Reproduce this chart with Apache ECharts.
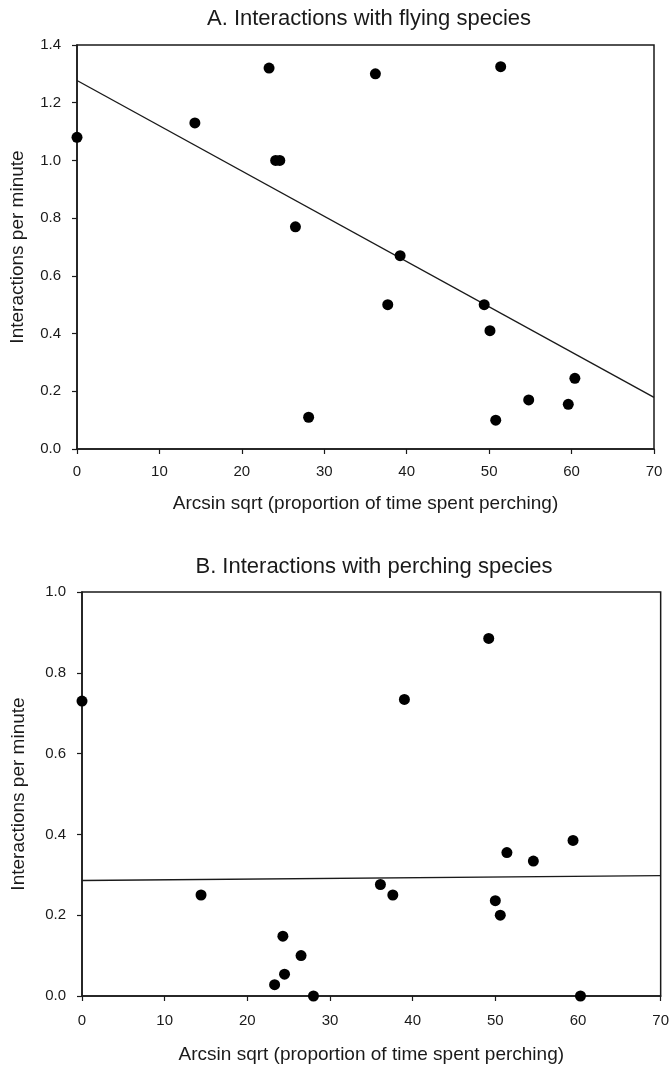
<!DOCTYPE html>
<html><head><meta charset="utf-8">
<script src="https://cdn.jsdelivr.net/npm/echarts@6/dist/echarts.min.js"></script>
<style>html,body{margin:0;padding:0;background:#fff}#c{width:672px;height:1067px}</style>
</head><body><div id="c"></div>
<script>
// Panel A: interactions with flying species
const xA = [0, 14.3, 23.3, 24.1, 24.6, 26.5, 28.1, 36.2, 37.7, 39.2, 49.4, 50.1, 50.8, 51.4, 54.8, 59.6, 60.4];
const yA = [1.08, 1.13, 1.32, 1.00, 1.00, 0.77, 0.11, 1.30, 0.50, 0.67, 0.50, 0.41, 0.10, 1.325, 0.17, 0.155, 0.245];
const fitA = [[0, 1.277], [70, 0.179]];
// Panel B: interactions with perching species
const xB = [0, 14.4, 23.3, 24.3, 24.5, 26.5, 28.0, 36.1, 37.6, 39.0, 49.2, 50.0, 50.6, 51.4, 54.6, 59.4, 60.3];
const yB = [0.73, 0.25, 0.028, 0.148, 0.054, 0.10, 0.0, 0.276, 0.25, 0.734, 0.885, 0.236, 0.20, 0.355, 0.334, 0.385, 0.0];
const fitB = [[0, 0.286], [70, 0.298]];
const titles = ['A. Interactions with flying species', 'B. Interactions with perching species'];
const xName = 'Arcsin sqrt (proportion of time spent perching)';
const yName = 'Interactions per minute';

const font = 'Liberation Sans, Arial, sans-serif';
const ink = '#1a1a1a';
function pts(xs, ys) { return xs.map((x, i) => [x, ys[i]]); }

const grids = [
  {left: 75, top: 45, width: 579, height: 404},
  {left: 82, top: 592, width: 580, height: 404}
];
function xAx(i, gap, margin) {
  return {gridIndex: i, type: 'value', min: 0, max: 70, interval: 10,
    name: xName, nameLocation: 'middle', nameGap: gap,
    nameTextStyle: {fontFamily: font, fontSize: 19, color: ink},
    axisLine: {lineStyle: {color: ink, width: 1.5}},
    axisTick: {length: 5, lineStyle: {color: ink, width: 1.2}},
    axisLabel: {fontFamily: font, fontSize: 15, color: ink, margin: margin},
    splitLine: {show: false}};
}
function yAx(i, max, gap) {
  return {gridIndex: i, type: 'value', min: 0, max: max, interval: 0.2,
    name: yName, nameLocation: 'middle', nameGap: gap, nameRotate: 90,
    nameTextStyle: {fontFamily: font, fontSize: 19, color: ink},
    axisLine: {show: true, lineStyle: {color: ink, width: 1.5}},
    axisTick: {show: true, length: 5, lineStyle: {color: ink, width: 1.2}},
    axisLabel: {fontFamily: font, fontSize: 15, color: ink, margin: 16,
      formatter: v => v.toFixed(1)},
    splitLine: {show: false}};
}
const option = {
  animation: false,
  backgroundColor: '#fff',
  title: [
    {text: titles[0], left: 364, top: 3, textAlign: 'center',
     textStyle: {fontFamily: font, fontSize: 22, fontWeight: 'normal', color: ink}},
    {text: titles[1], left: 369, top: 551, textAlign: 'center',
     textStyle: {fontFamily: font, fontSize: 22, fontWeight: 'normal', color: ink}}
  ],
  grid: grids.map(g => Object.assign({show: true, borderColor: ink, borderWidth: 1.5, backgroundColor: 'transparent'}, g)),
  xAxis: [xAx(0, 45, 15), xAx(1, 49, 17)],
  yAxis: [yAx(0, 1.4, 50), yAx(1, 1.0, 54)],
  series: [
    {type: 'line', xAxisIndex: 0, yAxisIndex: 0, data: fitA, showSymbol: false,
     lineStyle: {color: ink, width: 1.4}, z: 2},
    {type: 'scatter', xAxisIndex: 0, yAxisIndex: 0, data: pts(xA, yA), symbolSize: 11,
     itemStyle: {color: '#000', opacity: 1}, z: 3},
    {type: 'line', xAxisIndex: 1, yAxisIndex: 1, data: fitB, showSymbol: false,
     lineStyle: {color: ink, width: 1.4}, z: 2},
    {type: 'scatter', xAxisIndex: 1, yAxisIndex: 1, data: pts(xB, yB), symbolSize: 11,
     itemStyle: {color: '#000', opacity: 1}, z: 3}
  ]
};
const chart = echarts.init(document.getElementById('c'), null, {renderer: 'canvas'});
chart.setOption(option);
</script></body></html>
